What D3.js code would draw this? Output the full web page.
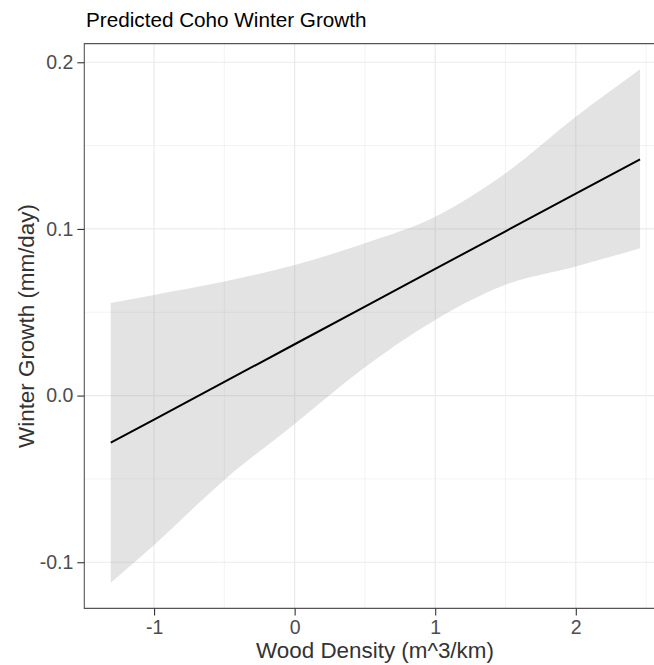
<!DOCTYPE html>
<html>
<head>
<meta charset="utf-8">
<script src="https://cdn.jsdelivr.net/npm/d3@7"></script>
<style>
  html, body { margin: 0; padding: 0; background: #fff; overflow: hidden; }
  svg { display: block; overflow: hidden; font-family: "Liberation Sans", Arial, Helvetica, sans-serif; }
</style>
</head>
<body>
<svg id="chart" width="654" height="665"></svg>
<script>
// Wood density (m^3/km, standardized) at which the model was evaluated
const woodDensity = [-1.308, -1.0, -0.5, 0.0, 0.5, 1.0, 1.5, 2.0, 2.457];
// Predicted winter growth (mm/day)
const predicted   = [-0.0283, -0.0144, 0.0082, 0.0308, 0.0534, 0.0760, 0.0986, 0.1212, 0.1418];
// Confidence band
const upperCI     = [0.0556, 0.0604, 0.0684, 0.0784, 0.0914, 0.1073, 0.1334, 0.1673, 0.1958];
const lowerCI     = [-0.1123, -0.0896, -0.0506, -0.0170, 0.0170, 0.0454, 0.0665, 0.0775, 0.0884];

const xTicks = [-1, 0, 1, 2];
const xMinor = [-0.5, 0.5, 1.5, 2.5];
const yTicks = [-0.1, 0.0, 0.1, 0.2];
const yMinor = [-0.05, 0.05, 0.15];
const yTickLabels = ["-0.1", "0.0", "0.1", "0.2"];

const titleText = "Predicted Coho Winter Growth";
const xTitle = "Wood Density (m^3/km)";
const yTitle = "Winter Growth (mm/day)";

const rows = woodDensity.map((x, i) => ({ x, fit: predicted[i], lo: lowerCI[i], hi: upperCI[i] }));

const svg = d3.select("#chart");
const panel = { left: 84.3, right: 666.5, top: 43.6, bottom: 608.4 };
const W = 654;

// 5% padding on both sides, as in the usual default expansion
function padded(extent) {
  const span = extent[1] - extent[0];
  return [extent[0] - span * 0.05, extent[1] + span * 0.05];
}
const xExtent = d3.extent(woodDensity);
const yExtent = [d3.min(lowerCI), d3.max(upperCI)];

const x = d3.scaleLinear().domain(padded(xExtent)).range([panel.left, panel.right]);
const y = d3.scaleLinear().domain(padded(yExtent)).range([panel.bottom, panel.top]);

// The visible part of the panel stops at the page edge
const visRight = Math.min(panel.right, W);

svg.append("defs").append("clipPath").attr("id", "panel-clip")
  .append("rect")
  .attr("x", panel.left).attr("y", panel.top)
  .attr("width", visRight - panel.left).attr("height", panel.bottom - panel.top);

const grid = svg.append("g").attr("clip-path", "url(#panel-clip)");

// Minor grid
grid.selectAll(".vminor").data(xMinor).join("line")
  .attr("x1", d => x(d)).attr("x2", d => x(d))
  .attr("y1", panel.top).attr("y2", panel.bottom)
  .attr("stroke", "#ebebeb").attr("stroke-width", 0.6);
grid.selectAll(".hminor").data(yMinor).join("line")
  .attr("y1", d => y(d)).attr("y2", d => y(d))
  .attr("x1", panel.left).attr("x2", visRight)
  .attr("stroke", "#ebebeb").attr("stroke-width", 0.6);

// Major grid
grid.selectAll(".vmajor").data(xTicks).join("line")
  .attr("x1", d => x(d)).attr("x2", d => x(d))
  .attr("y1", panel.top).attr("y2", panel.bottom)
  .attr("stroke", "#ebebeb").attr("stroke-width", 1.2);
grid.selectAll(".hmajor").data(yTicks).join("line")
  .attr("y1", d => y(d)).attr("y2", d => y(d))
  .attr("x1", panel.left).attr("x2", visRight)
  .attr("stroke", "#ebebeb").attr("stroke-width", 1.2);

const marks = svg.append("g").attr("clip-path", "url(#panel-clip)");

// Confidence ribbon
const band = d3.area()
  .x(d => x(d.x))
  .y0(d => y(d.lo))
  .y1(d => y(d.hi))
  .curve(d3.curveMonotoneX);
marks.append("path")
  .datum(rows)
  .attr("d", band)
  .attr("fill", "#999999")
  .attr("fill-opacity", 0.27);

// Fitted line
const fitLine = d3.line().x(d => x(d.x)).y(d => y(d.fit));
marks.append("path")
  .datum(rows)
  .attr("d", fitLine)
  .attr("fill", "none")
  .attr("stroke", "#000")
  .attr("stroke-width", 2);

// Panel border: left, top and bottom sides (the right side lies past the page edge)
const border = svg.append("g").attr("stroke", "#555").attr("stroke-width", 1.1).attr("fill", "none");
border.append("path")
  .attr("d", `M${W + 2},${panel.top}H${panel.left}V${panel.bottom}H${W + 2}`);

// Axes
const xAxis = d3.axisBottom(x).tickValues(xTicks).tickSize(7).tickPadding(5)
  .tickFormat(d3.format("d"));
const gx = svg.append("g").attr("transform", `translate(0,${panel.bottom})`).call(xAxis);
gx.select(".domain").remove();
gx.selectAll(".tick line").attr("stroke", "#333").attr("stroke-width", 1.1);
gx.selectAll(".tick text")
  .attr("fill", "#4d4d4d")
  .attr("font-size", 19.5)
  .attr("font-family", "Liberation Sans, Arial, sans-serif")
  .text(d => d < 0 ? "-" + Math.abs(d) : String(d));

const yAxis = d3.axisLeft(y).tickValues(yTicks).tickSize(7).tickPadding(4)
  .tickFormat((d, i) => yTickLabels[i]);
const gy = svg.append("g").attr("transform", `translate(${panel.left},0)`).call(yAxis);
gy.select(".domain").remove();
gy.selectAll(".tick line").attr("stroke", "#333").attr("stroke-width", 1.1);
gy.selectAll(".tick text")
  .attr("fill", "#4d4d4d")
  .attr("font-size", 19.5)
  .attr("font-family", "Liberation Sans, Arial, sans-serif");

// Titles
svg.append("text")
  .attr("x", 86).attr("y", 27)
  .attr("font-size", 20.7)
  .attr("fill", "#000")
  .text(titleText);

svg.append("text")
  .attr("x", 375).attr("y", 658)
  .attr("text-anchor", "middle")
  .attr("font-size", 22.4)
  .attr("fill", "#333")
  .text(xTitle);

svg.append("text")
  .attr("transform", `translate(34,${(panel.top + panel.bottom) / 2}) rotate(-90)`)
  .attr("text-anchor", "middle")
  .attr("font-size", 22.4)
  .attr("fill", "#333")
  .text(yTitle);
</script>
</body>
</html>
